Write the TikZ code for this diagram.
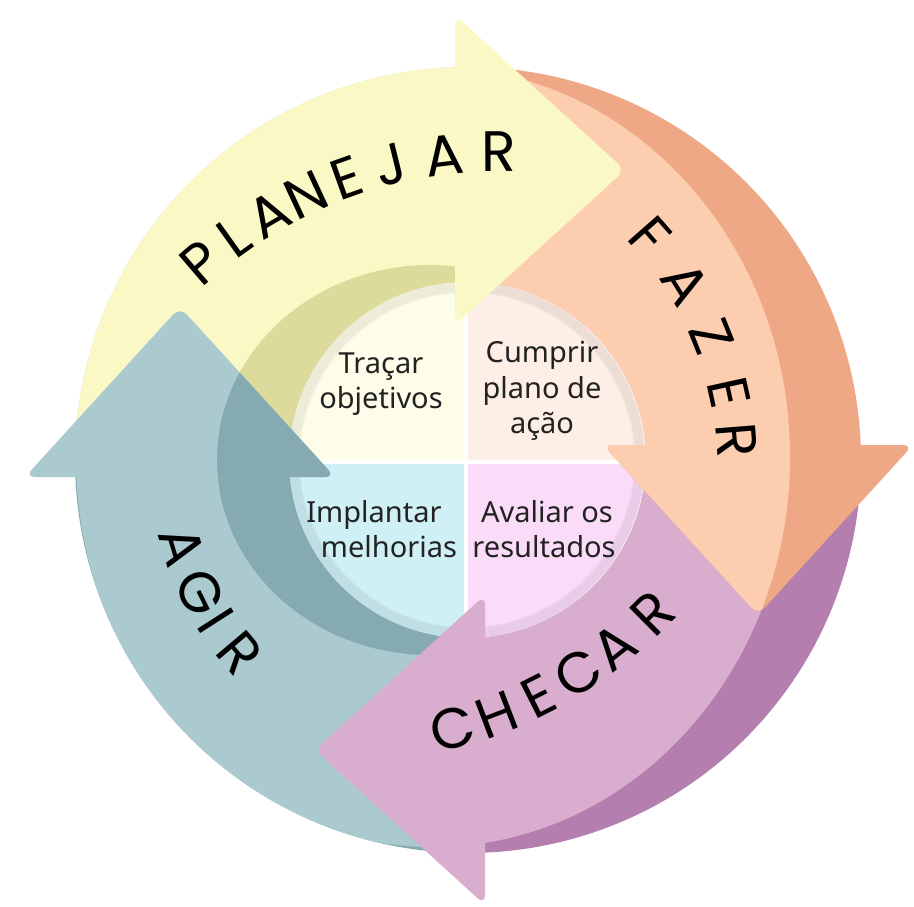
\documentclass[tikz,border=0pt]{standalone}
\usepackage{fontspec}
\usetikzlibrary{calc}
\newfontfamily\labelfont{Poppins}
\newfontfamily\quadfont{Noto Sans}
\definecolor{ylight}{HTML}{FAF9C5}
\definecolor{ydark}{HTML}{DCDB9C}
\definecolor{olight}{HTML}{FDCDB0}
\definecolor{odark}{HTML}{EFA886}
\definecolor{plight}{HTML}{D8ADCD}
\definecolor{pdark}{HTML}{B47EAE}
\definecolor{tlight}{HTML}{ABCAD0}
\definecolor{tdark}{HTML}{86AAB1}
\definecolor{qyellow}{HTML}{FEFDEA}
\definecolor{qpeach}{HTML}{FDEEE6}
\definecolor{qcyan}{HTML}{CFF0F5}
\definecolor{qpink}{HTML}{FADCF8}
\definecolor{qtext}{HTML}{222222}
\begin{document}
\begin{tikzpicture}[x=1pt,y=-1pt,
  bandsector/.style 2 args={insert path={($(468,460)+(#1:393)$) arc[start angle=#1,end angle=#2,radius=393] -- ($(468,460)+(#2:178)$) arc[start angle=#2,end angle=#1,radius=178] -- cycle}},
  lbl/.style={font=\labelfont\fontsize{57}{57}\selectfont, inner sep=0pt, text height=0.7em, text depth=0pt},
  qtxt/.style={font=\quadfont\fontsize{29}{35}\selectfont, text=qtext, inner sep=0pt, anchor=base},
  headshape/.style={rounded corners=10pt}]
\useasboundingbox (0,0) rectangle (914,906);
\fill[white] (0,0) rectangle (914,906);

% ---- ring bands: outer wall (dark) and top face (light)
\foreach \a/\b/\lc/\dc in {177.6/270.4/ylight/ydark, 268.4/360/olight/odark, -2/89.6/plight/pdark, 87.6/179.6/tlight/tdark}{
  \fill[\dc, bandsector={\a}{\b}];
  \begin{scope}
    \clip (433,457) ellipse[x radius=357,y radius=390];
    \fill[\lc, bandsector={\a}{\b}];
  \end{scope}
}
% ---- inner wall, seen on the upper and left side only
\foreach \a/\b/\dc in {177.6/270.4/ydark, 87.6/179.6/tdark}{
  \begin{scope}
    \clip (430,460) ellipse[x radius=213,y radius=195];
    \fill[\dc, bandsector={\a}{\b}];
  \end{scope}
}

% ---- central disc with four quadrants
\begin{scope}
  \clip (467,460) circle[radius=178];
  \fill[qyellow] (280,270) rectangle (466,462);
  \fill[qpeach] (466,270) rectangle (660,462);
  \fill[qcyan] (280,462) rectangle (466,650);
  \fill[qpink] (466,462) rectangle (660,650);
  \draw[white, line width=3.5] (466,270) -- (466,650) (280,462) -- (660,462);
  \foreach \k in {0,...,11}
    \draw[black, opacity=0.022, line width=2.5] (467,460) circle[radius=178-\k*0.9];
\end{scope}

% ---- arrow heads
% PLANEJAR head (yellow)
\fill[ylight, headshape] (455,170) -- (455,15) -- (625,170) -- (455,325) -- cycle;
% FAZER head (orange)
\fill[odark, headshape] (758,445) -- (913,445) -- (758,615) -- (603,445) -- cycle;
\begin{scope}
  \clip (433,457) ellipse[x radius=357,y radius=390];
  \fill[olight, headshape] (758,445) -- (913,445) -- (758,615) -- (603,445) -- cycle;
\end{scope}
% CHECAR head (purple)
\fill[plight, headshape] (485,750) -- (485,905) -- (315,750) -- (485,595) -- cycle;
% AGIR head (teal)
\fill[tlight, headshape] (180,477) -- (25,477) -- (180,307) -- (335,477) -- cycle;
\begin{scope}
  \clip (430,460) ellipse[x radius=213,y radius=195];
  \fill[tdark, headshape] (180,477) -- (25,477) -- (180,307) -- (335,477) -- cycle;
\end{scope}

% ---- quadrant texts
\node[qtxt] (q1a) at (381,373) {Traçar};
\node[qtxt] (q1b) at (381,408) {objetivos};
\node[qtxt] (q2a) at (542,362) {Cumprir};
\node[qtxt] (q2b) at (542,398) {plano de};
\node[qtxt] (q2c) at (542,433) {ação};
\node[qtxt] (q3a) at (374,522) {Implantar};
\node[qtxt] (q3b) at (389,557) {melhorias};
\node[qtxt] (q4a) at (547,522) {Avaliar os};
\node[qtxt] (q4b) at (544,557) {resultados};

% ---- curved labels
\foreach \t/\c [count=\i] in {130.7/P,125.5/L,120.3/A,115/N,109.6/E,103.8/J,97/A,90.2/R}
  \node[lbl, rotate=\t-90] (plan\i) at ($(500,610)+(-\t:442)$) {\c};
\foreach \t/\c [count=\i] in {41.3/F,31.6/A,21.9/Z,12.4/E,4.5/R}
  \node[lbl, rotate=\t-90] (faz\i) at ($(387,467.5)+(-\t:334)$) {\c};
\foreach \t/\c [count=\i] in {-75/C,-69.1/H,-63.2/E,-57.4/C,-51.7/A,-45.2/R}
  \node[lbl, rotate=\t+90] (chec\i) at ($(336,294.4)+(-\t:466)$) {\c};
\foreach \t/\c [count=\i] in {196.8/A,206.3/G,212.6/I,220.2/R}
  \node[lbl, rotate=\t+90] (agir\i) at ($(468,460)+(-\t:315)$) {\c};
\end{tikzpicture}
\end{document}
